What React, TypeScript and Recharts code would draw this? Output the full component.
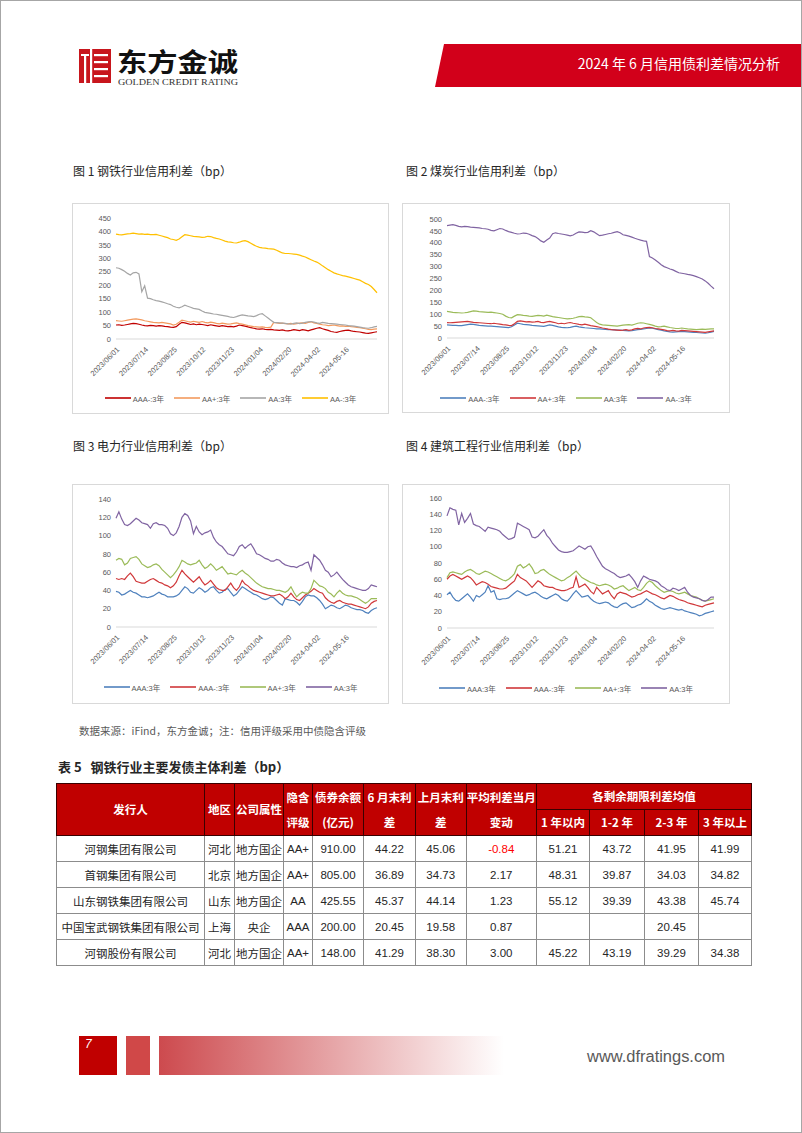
import React from 'react';
import { LineChart, Line, XAxis, YAxis, Legend } from 'recharts';

const FONT_CN = '"Noto Sans CJK SC", "Noto Sans", sans-serif';
const FONT_NUM = '"Liberation Sans", "Noto Sans CJK SC", sans-serif';

// ---------- shared axis labels ----------
const DATE_LABELS = ['2023/06/01', '2023/07/14', '2023/08/25', '2023/10/12', '2023/11/23', '2024/01/04', '2024/02/20', '2024-04-02', '2024-05-16'];
const TICK_K = DATE_LABELS.map((_, i) => i * 10);

const Y_TICKS_STEEL = [0, 50, 100, 150, 200, 250, 300, 350, 400, 450];
const Y_TICKS_COAL = [0, 50, 100, 150, 200, 250, 300, 350, 400, 450, 500];
const Y_TICKS_POWER = [0, 20, 40, 60, 80, 100, 120, 140];
const Y_TICKS_BUILD = [0, 20, 40, 60, 80, 100, 120, 140, 160];

// ---------- 图1 钢铁 ----------
const STEEL_AAAm = [
  52, 53, 51, 52, 54, 56, 58, 57, 55, 52,
  50, 49, 51, 50, 48, 50, 49, 47, 46, 44,
  43, 46, 55, 62, 60, 57, 54, 56, 53, 55,
  54, 52, 50, 53, 51, 49, 47, 50, 48, 46,
  47, 45, 48, 52, 50, 48, 45, 42, 40, 38,
  37, 38, 36, 35, 36, 34, 33, 32, 34, 31,
  30, 32, 35, 33, 31, 35, 33, 30, 34, 37,
  40, 42, 38, 35, 32, 28, 26, 25, 28, 30,
  32, 33, 30, 28, 27, 26, 24, 22, 21, 23,
  25, 27];
const STEEL_AAp = [
  68, 67, 66, 68, 70, 72, 74, 75, 73, 71,
  68, 66, 64, 62, 61, 60, 62, 60, 58, 56,
  52, 55, 62, 70, 68, 65, 63, 66, 64, 62,
  65, 62, 60, 63, 61, 58, 56, 59, 57, 55,
  56, 58, 60, 57, 55, 53, 50, 48, 46, 45,
  44, 45, 43, 42, 44, 62, 60, 58, 59, 57,
  56, 58, 55, 57, 59, 60, 58, 62, 64, 60,
  58, 55, 53, 52, 50, 51, 52, 50, 48, 49,
  47, 48, 46, 45, 43, 42, 40, 38, 36, 35,
  37, 38];
const STEEL_AA = [
  265, 263, 258, 252, 244, 238, 246, 248, 242, 176,
  198, 152, 150, 146, 143, 141, 138, 135, 131, 128,
  122, 118, 116, 120, 126, 122, 118, 114, 112, 110,
  104, 99, 97, 95, 93, 92, 90, 88, 86, 84,
  81, 80, 83, 87, 90, 88, 86, 85, 83, 87,
  92, 94, 86, 78, 70, 62, 61, 60, 59, 58,
  56, 55, 58, 60, 57, 59, 62, 64, 65, 63,
  60, 58, 62, 60, 58, 57, 56, 55, 54, 53,
  52, 50, 49, 48, 46, 44, 42, 41, 40, 42,
  45, 47];
const STEEL_AAm = [
  390, 388, 387, 389, 391, 392, 394, 392, 390, 391,
  389, 390, 388, 388, 389, 386, 383, 380, 377, 372,
  370, 367, 372, 380, 388, 386, 384, 382, 381, 380,
  378, 379, 382, 381, 377, 374, 372, 368, 364, 361,
  360, 358, 357, 360, 364, 366, 362, 356, 350, 345,
  341, 339, 338, 336, 335, 334, 330, 325, 320, 318,
  318, 317, 316, 315, 312, 308, 305, 300, 295, 290,
  286, 280, 272, 265, 258, 252, 246, 242, 239, 236,
  234, 231, 228, 225, 222, 219, 213, 207, 203, 195,
  184, 172];

// ---------- 图2 煤炭 ----------
const COAL_AAAm = [
  55, 54, 53, 53, 52, 52, 54, 56, 58, 57,
  55, 53, 52, 51, 50, 50, 49, 48, 47, 46,
  45, 44, 47, 55, 62, 60, 57, 56, 55, 53,
  52, 51, 50, 49, 52, 55, 53, 50, 47, 45,
  44, 43, 45, 48, 50, 47, 45, 43, 42, 41,
  40, 38, 38, 37, 36, 35, 35, 34, 33, 33,
  32, 31, 30, 31, 33, 35, 36, 38, 40, 42,
  41, 38, 35, 33, 30, 28, 26, 25, 26, 27,
  28, 27, 26, 25, 24, 23, 22, 21, 20, 22,
  25, 28];
const COAL_AAp = [
  65, 64, 65, 66, 67, 68, 69, 70, 68, 66,
  65, 64, 63, 62, 61, 60, 62, 60, 58, 56,
  55, 53, 52, 60, 70, 72, 70, 68, 69, 67,
  68, 70, 66, 65, 68, 70, 67, 64, 60, 62,
  60, 63, 65, 62, 60, 57, 55, 58, 55, 52,
  50, 48, 45, 42, 40, 37, 35, 34, 33, 32,
  33, 35, 32, 34, 38, 40, 38, 42, 44, 45,
  43, 40, 38, 36, 34, 31, 30, 32, 30, 29,
  32, 31, 30, 29, 28, 27, 26, 25, 24, 26,
  28, 30];
const COAL_AA = [
  112, 110, 108, 107, 106, 105, 106, 108, 111, 114,
  113, 111, 110, 109, 108, 109, 107, 105, 103, 100,
  92, 86, 85, 92, 98, 97, 95, 94, 92, 91,
  93, 95, 94, 92, 96, 93, 90, 88, 86, 84,
  82, 80, 81, 83, 86, 90, 91, 89, 88, 85,
  75, 65, 58, 55, 54, 53, 52, 51, 50, 52,
  54, 55, 56, 54, 58, 62, 64, 63, 60, 57,
  54, 50, 47, 48, 50, 47, 44, 42, 40, 40,
  42, 40, 38, 37, 36, 35, 36, 37, 36, 37,
  38, 38];
const COAL_AAm = [
  472, 474, 476, 473, 469, 467, 469, 468, 466, 465,
  464, 463, 460, 459, 457, 452, 450, 455, 460, 458,
  452, 447, 444, 440, 437, 438, 441, 440, 436, 430,
  426, 418, 408, 402, 412, 420, 438, 442, 439, 437,
  435, 432, 429, 433, 440, 446, 445, 443, 444, 451,
  446, 438, 430, 432, 435, 438, 440, 444, 447, 442,
  434, 431, 428, 424, 419, 415, 411, 408, 406, 342,
  336, 328, 318, 308, 300, 295, 290, 286, 280, 274,
  272, 270, 267, 265, 262, 258, 253, 248, 240, 230,
  218, 207];

// ---------- 图3 电力 ----------
const POWER_AAA = [
  39, 38, 35, 36, 38, 40, 38, 37, 35, 33,
  33, 32, 33, 34, 36, 38, 36, 35, 33, 33,
  33, 34, 36, 40, 44, 42, 38, 37, 40, 43,
  41, 38, 40, 43, 44, 40, 37, 38, 41, 42,
  38, 34, 36, 40, 44, 42, 40, 38, 36, 35,
  33, 31, 30, 31, 33, 32, 29, 26, 24, 31,
  30, 29, 29, 27, 24, 28, 33, 35, 34, 34,
  32, 29, 25, 20, 22, 24, 23, 21, 20, 22,
  24, 23, 21, 20, 19, 19, 18, 16, 15, 18,
  20, 21];
const POWER_AAAm = [
  53, 52, 53, 52, 56, 59, 55, 50, 49, 48,
  48, 50, 52, 53, 51, 49, 48, 46, 45, 43,
  45, 49, 56, 62, 58, 55, 52, 49, 52, 55,
  50, 46, 48, 51, 47, 43, 41, 40, 40, 44,
  48, 43, 40, 44, 51, 47, 45, 42, 40, 39,
  38, 37, 36, 35, 34, 34, 35, 36, 34, 31,
  33, 37, 33, 30, 29, 32, 35, 37, 39, 42,
  40, 38, 37, 32, 29, 27, 26, 28, 29, 27,
  26, 25, 25, 24, 23, 22, 21, 20, 22, 26,
  28, 29];
const POWER_AAp = [
  73, 75, 74, 68, 70, 75, 76, 77, 74, 69,
  67, 65, 66, 68, 69, 67, 63, 60, 57, 54,
  57, 61, 66, 73, 71, 69, 68, 69, 70, 73,
  68, 64, 66, 69, 66, 62, 64, 66, 62, 58,
  59, 58, 57, 60, 62, 59, 57, 54, 51, 48,
  46, 44, 43, 42, 42, 41, 40, 40, 39, 38,
  40, 44, 38, 33, 36, 38, 37, 37, 42, 51,
  48, 45, 44, 42, 38, 36, 33, 37, 40, 37,
  35, 34, 34, 33, 32, 30, 28, 26, 28, 31,
  31, 31];
const POWER_AA = [
  119, 126, 118, 112, 111, 113, 116, 119, 117, 114,
  113, 112, 108, 113, 114, 112, 112, 111, 108, 102,
  100, 103, 110, 120, 124, 122, 116, 102, 110, 104,
  101, 103, 104, 106, 98, 93, 90, 88, 84, 80,
  79, 78, 82, 88, 90, 86, 89, 91, 86, 80,
  79, 77, 75, 74, 72, 72, 74, 73, 70, 68,
  67, 66, 66, 65, 67, 68, 70, 71, 62, 79,
  76, 73, 68, 62, 60, 55, 57, 60, 56, 52,
  49, 46, 44, 43, 42, 41, 40, 40, 42, 46,
  45, 44];

// ---------- 图4 建筑工程 ----------
const BUILD_AAA = [
  41, 44, 38, 34, 33, 36, 39, 42, 38, 33,
  40, 38, 41, 44, 52, 44, 46, 36, 35, 36,
  36, 37, 40, 43, 46, 44, 42, 40, 41, 43,
  44, 42, 39, 37, 36, 38, 40, 42, 40, 36,
  34, 33, 37, 42, 46, 42, 38, 39, 40, 36,
  33, 31, 30, 31, 32, 31, 28, 26, 25, 28,
  30, 31, 28, 25, 26, 28, 29, 32, 36, 33,
  31, 28, 26, 24, 23, 24, 25, 24, 23, 22,
  23, 21, 20, 19, 18, 17, 15, 16, 18, 19,
  20, 21];
const BUILD_AAAm = [
  60, 64, 66, 64, 62, 60, 62, 64, 62, 58,
  53, 55, 57, 56, 54, 51, 50, 49, 48, 48,
  49, 52, 55, 58, 66, 62, 60, 58, 54, 50,
  54, 58, 56, 52, 51, 50, 50, 48, 47, 46,
  46, 47, 49, 50, 63, 50, 52, 54, 50, 45,
  42, 50, 46, 42, 44, 46, 40, 36, 42, 44,
  43, 42, 40, 38, 39, 41, 42, 44, 46, 44,
  42, 41, 39, 37, 36, 38, 40, 39, 37, 35,
  34, 33, 31, 30, 29, 28, 27, 26, 28, 29,
  30, 31];
const BUILD_AAp = [
  62, 68, 69, 68, 67, 66, 69, 71, 72, 70,
  67, 66, 68, 70, 69, 67, 65, 63, 61, 59,
  58, 60, 63, 67, 76, 78, 74, 76, 79, 74,
  67, 68, 71, 72, 69, 66, 64, 62, 60, 58,
  59, 62, 64, 67, 70, 66, 62, 60, 58, 56,
  55, 53, 52, 53, 54, 53, 51, 48, 49, 51,
  52, 49, 46, 48, 50, 47, 46, 50, 55, 58,
  56, 52, 49, 46, 44, 45, 46, 45, 43, 42,
  43, 44, 42, 40, 39, 38, 36, 34, 33, 34,
  35, 36];
const BUILD_AA = [
  138, 148, 146, 145, 127, 141, 130, 135, 141, 128,
  126, 125, 122, 119, 124, 123, 122, 121, 119, 115,
  112, 109, 110, 112, 129, 127, 125, 123, 121, 112,
  111, 113, 117, 121, 114, 110, 104, 100, 96, 94,
  93, 93, 94, 95, 98, 101, 99, 97, 100, 101,
  95, 88, 82, 76, 73, 71, 69, 67, 64, 62,
  63, 64, 66, 62, 57, 50, 58, 64, 62, 60,
  59, 58, 56, 52, 50, 47, 46, 49, 48, 46,
  48, 50, 44, 40, 38, 37, 36, 34, 33, 35,
  38, 38];

// ---------- 表5 ----------
const T_ISSUER = ['河钢集团有限公司', '首钢集团有限公司', '山东钢铁集团有限公司', '中国宝武钢铁集团有限公司', '河钢股份有限公司'];
const T_REGION = ['河北', '北京', '山东', '上海', '河北'];
const T_TYPE = ['地方国企', '地方国企', '地方国企', '央企', '地方国企'];
const T_RATING = ['AA+', 'AA+', 'AA', 'AAA', 'AA+'];
const T_BALANCE = ['910.00', '805.00', '425.55', '200.00', '148.00'];
const T_JUNE = ['44.22', '36.89', '45.37', '20.45', '41.29'];
const T_MAY = ['45.06', '34.73', '44.14', '19.58', '38.30'];
const T_CHANGE = ['-0.84', '2.17', '1.23', '0.87', '3.00'];
const T_Y1 = ['51.21', '48.31', '55.12', '', '45.22'];
const T_Y12 = ['43.72', '39.87', '39.39', '', '43.19'];
const T_Y23 = ['41.95', '34.03', '43.38', '20.45', '39.29'];
const T_Y3 = ['41.99', '34.82', '45.74', '', '34.38'];

type Series = { key: string; name: string; color: string; values: number[] };

const XTick = (props: any) => {
  const { x, y, payload } = props;
  const ax = x + 4;
  const ay = y + 11;
  return (
    <text x={ax} y={ay} transform={`rotate(-45 ${ax} ${ay})`} textAnchor="end" fontSize={7.5} fill="#595959" fontFamily={FONT_NUM}>
      {DATE_LABELS[Math.round(payload.value / 10)]}
    </text>
  );
};

const LegendRow = ({ series, w }: { series: Series[]; w: number }) => (
  <div style={{ width: w, height: 16, display: 'flex', justifyContent: 'center', alignItems: 'center' }}>
    {series.map((s, i) => (
      <div key={s.key} style={{ display: 'flex', alignItems: 'center', marginLeft: i === 0 ? 0 : 10 }}>
        <svg width={26} height={4}><line x1={0} y1={2} x2={26} y2={2} stroke={s.color} strokeWidth={1.6} /></svg>
        <span style={{ marginLeft: 2, fontSize: 7.5, color: '#595959', fontFamily: FONT_NUM, whiteSpace: 'nowrap' }}>{s.name}</span>
      </div>
    ))}
  </div>
);

type ChartProps = { left: number; top: number; w: number; h: number; mt: number; mr: number; mb: number; yw: number; xh: number; yTicks: number[]; series: Series[] };

function SpreadChart({ left, top, w, h, mt, mr, mb, yw, xh, yTicks, series }: ChartProps) {
  const data = series[0].values.map((_, k) => {
    const row: any = { k };
    series.forEach((s) => { row[s.key] = s.values[k]; });
    return row;
  });
  const yMax = yTicks[yTicks.length - 1];
  return (
    <div style={{ position: 'absolute', left, top, width: w, height: h }}>
      <div style={{ position: 'absolute', left: 0, top: 0, width: w, height: h, border: '1px solid #D9D9D9', boxSizing: 'border-box' }} />
      <LineChart width={w} height={h} data={data} margin={{ top: mt, right: mr, bottom: mb, left: 0 }}>
        <XAxis
          type="number"
          dataKey="k"
          domain={[0, data.length - 1]}
          ticks={TICK_K}
          interval={0}
          tick={(p: any) => <XTick {...p} />}
          tickLine={false}
          tickSize={0}
          tickMargin={0}
          axisLine={{ stroke: '#D9D9D9' }}
          height={xh}
        />
        <YAxis
          type="number"
          domain={[0, yMax]}
          ticks={yTicks}
          interval={0}
          width={yw}
          tickLine={false}
          axisLine={false}
          tickSize={0}
          tickMargin={5}
          tick={{ fontSize: 7.5, fill: '#595959', fontFamily: FONT_NUM }}
        />
        <Legend verticalAlign="bottom" height={16} wrapperStyle={{ left: 0, width: w }} content={() => <LegendRow series={series} w={w} />} />
        {series.map((s) => (
          <Line key={s.key} type="linear" dataKey={s.key} name={s.name} stroke={s.color} strokeWidth={1.2} dot={false} activeDot={false} isAnimationActive={false} />
        ))}
      </LineChart>
    </div>
  );
}

const BLUE = '#4F81BD';
const RED = '#D0383A';
const GREEN = '#9BBB59';
const PURPLE = '#8064A2';

const steelSeries: Series[] = [
  { key: 'a', name: 'AAA-:3年', color: '#C00000', values: STEEL_AAAm },
  { key: 'b', name: 'AA+:3年', color: '#F39A5E', values: STEEL_AAp },
  { key: 'c', name: 'AA:3年', color: '#A5A5A5', values: STEEL_AA },
  { key: 'd', name: 'AA-:3年', color: '#FFC000', values: STEEL_AAm },
];
const coalSeries: Series[] = [
  { key: 'a', name: 'AAA-:3年', color: BLUE, values: COAL_AAAm },
  { key: 'b', name: 'AA+:3年', color: RED, values: COAL_AAp },
  { key: 'c', name: 'AA:3年', color: GREEN, values: COAL_AA },
  { key: 'd', name: 'AA-:3年', color: PURPLE, values: COAL_AAm },
];
const powerSeries: Series[] = [
  { key: 'a', name: 'AAA:3年', color: BLUE, values: POWER_AAA },
  { key: 'b', name: 'AAA-:3年', color: RED, values: POWER_AAAm },
  { key: 'c', name: 'AA+:3年', color: GREEN, values: POWER_AAp },
  { key: 'd', name: 'AA:3年', color: PURPLE, values: POWER_AA },
];
const buildSeries: Series[] = [
  { key: 'a', name: 'AAA:3年', color: BLUE, values: BUILD_AAA },
  { key: 'b', name: 'AAA-:3年', color: RED, values: BUILD_AAAm },
  { key: 'c', name: 'AA+:3年', color: GREEN, values: BUILD_AAp },
  { key: 'd', name: 'AA:3年', color: PURPLE, values: BUILD_AA },
];

const COL_W = [148, 30, 49, 29, 51, 52, 50.5, 70.5, 53, 55, 54, 53];

const hCell: React.CSSProperties = {
  background: '#C00000', color: '#fff', fontWeight: 700, fontSize: 11.5, fontFamily: FONT_CN,
  border: '1px solid #3A0000', textAlign: 'center', padding: 0, lineHeight: '25px',
};
const bCell: React.CSSProperties = {
  color: '#262626', fontSize: 11.5, fontFamily: FONT_NUM, border: '1px solid #8C8C8C',
  textAlign: 'center', padding: 0, height: 25, whiteSpace: 'nowrap',
};

function Title({ left, top, text, size = 12, bold = false }: { left: number; top: number; text: string; size?: number; bold?: boolean }) {
  return (
    <div style={{ position: 'absolute', left, top, fontSize: size, fontWeight: bold ? 700 : 400, color: '#262626', fontFamily: FONT_CN, whiteSpace: 'pre', lineHeight: 1 }}>
      {text}
    </div>
  );
}

export default function App() {
  return (
    <div style={{ position: 'absolute', left: 0, top: 0, width: 802, height: 1133, background: '#fff', overflow: 'hidden', border: '1px solid #A6A6A6', boxSizing: 'border-box' }}>
      {/* header */}
      <svg style={{ position: 'absolute', left: 0, top: 0 }} width={802} height={100}>
        <polygon points="443,43 802,43 802,86 434,86" fill="#D2001A" />
        <rect x={78} y={48} width={32} height={34} fill="#C8161D" />
        <rect x={83} y={53} width={2.2} height={29} fill="#fff" />
        <rect x={80} y={53} width={8} height={2} fill="#fff" />
        <rect x={89} y={48} width={2.2} height={34} fill="#fff" />
        <rect x={93} y={53} width={14} height={2.2} fill="#fff" />
        <rect x={93} y={60} width={14} height={2.2} fill="#fff" />
        <rect x={93} y={67} width={14} height={2.2} fill="#fff" />
        <rect x={93} y={74} width={14} height={2.2} fill="#fff" />
        <text x={116} y={71} fontSize={26} fontWeight={700} fontFamily={FONT_CN} fill="#111" textLength={121} lengthAdjust="spacingAndGlyphs">东方金诚</text>
        <text x={117} y={84} fontSize={8.5} fontFamily='"Liberation Serif", "DejaVu Serif", serif' fill="#333" textLength={120} lengthAdjust="spacingAndGlyphs">GOLDEN CREDIT RATING</text>
        <text x={779} y={68} fontSize={14} fontFamily={FONT_CN} fill="#fff" textAnchor="end">2024 年 6 月信用债利差情况分析</text>
      </svg>

      <Title left={72} top={164} text="图 1 钢铁行业信用利差（bp）" />
      <Title left={405} top={164} text="图 2 煤炭行业信用利差（bp）" />
      <Title left={72} top={439} text="图 3 电力行业信用利差（bp）" />
      <Title left={405} top={439} text="图 4 建筑工程行业信用利差（bp）" />

      <SpreadChart left={71} top={202} w={317} h={211} mt={15} mr={12} mb={8} yw={44} xh={51} yTicks={Y_TICKS_STEEL} series={steelSeries} />
      <SpreadChart left={401} top={202} w={328} h={210} mt={16} mr={16} mb={7} yw={45} xh={52} yTicks={Y_TICKS_COAL} series={coalSeries} />
      <SpreadChart left={71} top={483} w={317} h={220} mt={15} mr={12} mb={9} yw={44} xh={52} yTicks={Y_TICKS_POWER} series={powerSeries} />
      <SpreadChart left={401} top={483} w={328} h={220} mt={14} mr={16} mb={8} yw={45} xh={52} yTicks={Y_TICKS_BUILD} series={buildSeries} />

      <div style={{ position: 'absolute', left: 78, top: 725, fontSize: 10.5, color: '#595959', fontFamily: FONT_CN, whiteSpace: 'nowrap', lineHeight: 1 }}>
        数据来源：iFind，东方金诚；注：信用评级采用中债隐含评级
      </div>

      <Title left={57} top={759} text="表 5   钢铁行业主要发债主体利差（bp）" size={13} bold />

      <table style={{ position: 'absolute', left: 55, top: 782, width: 695, borderCollapse: 'collapse', tableLayout: 'fixed' }}>
        <colgroup>
          {COL_W.map((cw, i) => <col key={i} style={{ width: cw }} />)}
        </colgroup>
        <thead>
          <tr style={{ height: 26 }}>
            <th rowSpan={2} style={hCell}>发行人</th>
            <th rowSpan={2} style={hCell}>地区</th>
            <th rowSpan={2} style={hCell}>公司属性</th>
            <th rowSpan={2} style={hCell}>隐含<br />评级</th>
            <th rowSpan={2} style={hCell}>债券余额<br />(亿元)</th>
            <th rowSpan={2} style={hCell}>6 月末利<br />差</th>
            <th rowSpan={2} style={hCell}>上月末利<br />差</th>
            <th rowSpan={2} style={hCell}>平均利差当月<br />变动</th>
            <th colSpan={4} style={hCell}>各剩余期限利差均值</th>
          </tr>
          <tr style={{ height: 26 }}>
            <th style={hCell}>1 年以内</th>
            <th style={hCell}>1-2 年</th>
            <th style={hCell}>2-3 年</th>
            <th style={hCell}>3 年以上</th>
          </tr>
        </thead>
        <tbody>
          {T_ISSUER.map((name, i) => (
            <tr key={name} style={{ height: 25.8 }}>
              <td style={{ ...bCell, fontFamily: FONT_CN }}>{name}</td>
              <td style={{ ...bCell, fontFamily: FONT_CN }}>{T_REGION[i]}</td>
              <td style={{ ...bCell, fontFamily: FONT_CN }}>{T_TYPE[i]}</td>
              <td style={bCell}>{T_RATING[i]}</td>
              <td style={bCell}>{T_BALANCE[i]}</td>
              <td style={bCell}>{T_JUNE[i]}</td>
              <td style={bCell}>{T_MAY[i]}</td>
              <td style={{ ...bCell, color: T_CHANGE[i].startsWith('-') ? '#FF0000' : '#262626' }}>{T_CHANGE[i]}</td>
              <td style={bCell}>{T_Y1[i]}</td>
              <td style={bCell}>{T_Y12[i]}</td>
              <td style={bCell}>{T_Y23[i]}</td>
              <td style={bCell}>{T_Y3[i]}</td>
            </tr>
          ))}
        </tbody>
      </table>

      {/* footer */}
      <svg style={{ position: 'absolute', left: 0, top: 1020 }} width={802} height={70}>
        <defs>
          <linearGradient id="fg" x1="0" y1="0" x2="1" y2="0">
            <stop offset="0" stopColor="#CD4A4E" />
            <stop offset="1" stopColor="#FFFFFF" />
          </linearGradient>
        </defs>
        <rect x={78} y={15} width={38} height={39} fill="#C00000" />
        <rect x={125} y={15} width={24} height={39} fill="#D04848" />
        <rect x={158} y={15} width={345} height={39} fill="url(#fg)" />
        <text x={84} y={27} fontSize={12} fontStyle="italic" fill="#fff" fontFamily={FONT_NUM}>7</text>
        <text x={586} y={41} fontSize={16} fill="#595959" fontFamily={FONT_NUM} textLength={138} lengthAdjust="spacingAndGlyphs">www.dfratings.com</text>
      </svg>
    </div>
  );
}
